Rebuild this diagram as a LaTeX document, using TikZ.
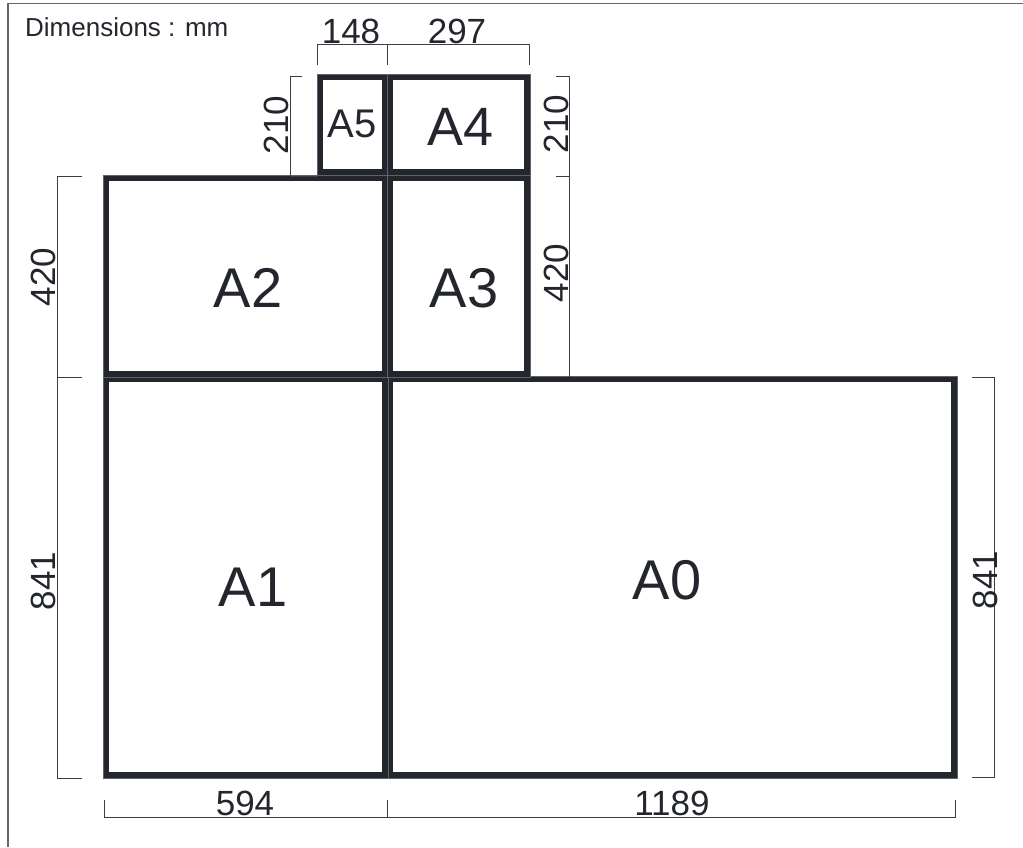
\documentclass[tikz,border=0pt]{standalone}
\usepackage{fontspec}
\setmainfont{Liberation Sans}
\newcommand\fsz[1]{\fontsize{#1pt}{#1pt}\selectfont}
\definecolor{ink}{HTML}{23272D}
\definecolor{dimc}{HTML}{3A3E44}
\definecolor{streak}{HTML}{5E636A}
\begin{document}
\begin{tikzpicture}[x=1pt,y=-1pt,
  sheet/.style={draw=ink,line width=6pt,rectangle,inner sep=0pt,minimum width=#1},
  sheetlab/.style={text=ink,inner sep=0pt,font=\fsz{56}},
  dimline/.style={draw=dimc,line width=1pt},
  dimlab/.style={text=ink,inner sep=0pt,font=\fsz{35}},
  vlab/.style={dimlab,rotate=90},
  hl/.style={draw=streak,line width=0.5pt}]
\useasboundingbox (0,0) rectangle (1023,847);
\fill[white] (0,0) rectangle (1023,847);
% outer frame (top and left only)
\draw[gray!80!black,line width=1.3pt] (8,847) -- (8,3.5) -- (1023,3.5);
% sheets
\newcommand\sheet[5]{%
  \node[sheet=#4-#2, minimum height=#5-#3] (#1) at ({(#2+#4)/2},{(#3+#5)/2}) {};
  \draw[hl] (#1.north west) rectangle (#1.south east);}
\sheet{a0}{390}{379}{954}{775}
\sheet{a1}{106}{379}{385}{775}
\sheet{a2}{106}{178}{385}{374}
\sheet{a3}{390}{178}{527}{374}
\sheet{a5}{320}{77}{385}{172}
\sheet{a4}{390}{77}{527}{172}
% sheet labels
\node[sheetlab] (la0) at (667,580) {A0};
\node[sheetlab] (la1) at (253,587) {A1};
\node[sheetlab] (la2) at (248,288) {A2};
\node[sheetlab] (la3) at (464,288) {A3};
\node[sheetlab,font=\fsz{54}] (la4) at (461,127) {A4};
\node[sheetlab,font=\fsz{40}] (la5) at (352,124) {A5};
% title
\node[text=ink,inner sep=0pt,anchor=west,font=\fsz{26}] (title) at (25,27) {Dimensions : mm};
% top dimensions
\draw[dimline] (317,65) -- (317,44) -- (529,44) -- (529,65);
\draw[dimline] (387,44) -- (387,65);
\node[dimlab] (d148) at (351,31) {148};
\node[dimlab] (d297) at (457,31) {297};
% left 210
\draw[dimline] (302,76) -- (290,76) -- (290,176) -- (318,176);
\node[vlab] (d210l) at (276,125) {210};
% right 210 / 420
\draw[dimline] (556,76) -- (569,76) -- (569,377);
\draw[dimline] (556,176) -- (569,176);
\node[vlab] (d210r) at (556,124) {210};
\node[vlab] (d420r) at (556,273) {420};
% left 420 / 841
\draw[dimline] (82,176) -- (57,176) -- (57,778) -- (82,778);
\draw[dimline] (57,377) -- (82,377);
\node[vlab] (d420l) at (43,277) {420};
\node[vlab] (d841l) at (43,581) {841};
% right 841
\draw[dimline] (972,377) -- (994,377) -- (994,777) -- (972,777);
\node[vlab] (d841r) at (985,580) {841};
% bottom dimensions
\draw[dimline] (104,800) -- (104,817) -- (955,817) -- (955,800);
\draw[dimline] (387,800) -- (387,817);
\node[dimlab] (d594) at (245,803) {594};
\node[dimlab] (d1189) at (672,803) {1189};
\end{tikzpicture}
\end{document}
